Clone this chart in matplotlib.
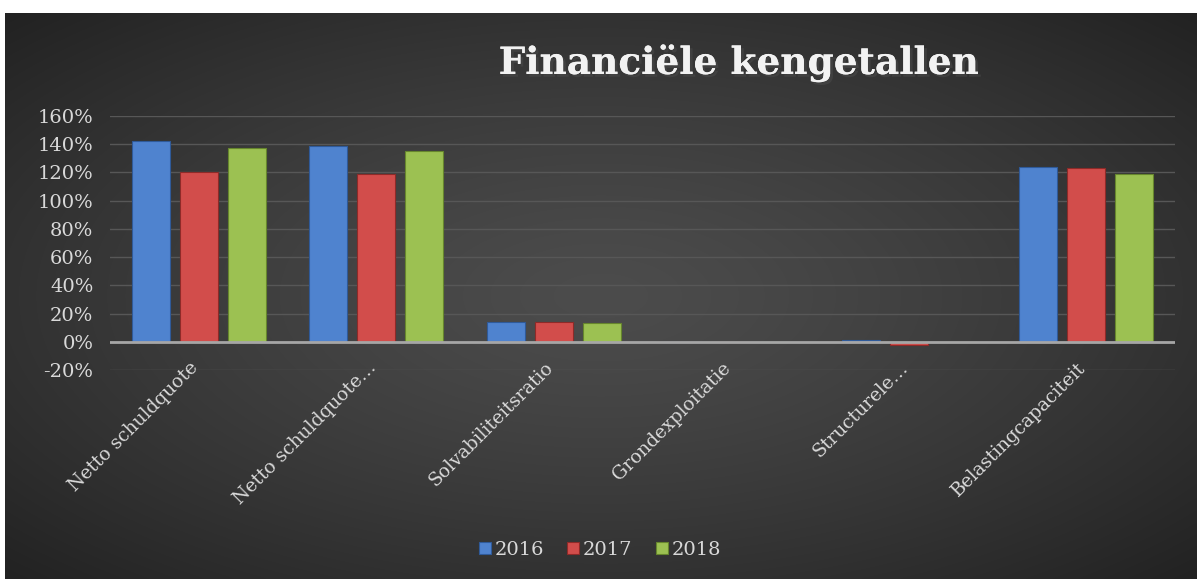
import numpy as np
import matplotlib.pyplot as plt
import matplotlib.patheffects as pe
import matplotlib.transforms as mtrans
from matplotlib.ticker import MultipleLocator, FuncFormatter

categories = ["Netto schuldquote", "Netto schuldquote…", "Solvabiliteitsratio",
              "Grondexploitatie", "Structurele…", "Belastingcapaciteit"]
years = ["2016", "2017", "2018"]
v2016 = [142, 139, 14, 0, 1, 124]
v2017 = [120, 119, 14, 0, -2, 123]
v2018 = [137, 135, 13, -0.5, 0, 119]
colors = ["#4f83cf", "#d24d4b", "#9cc152"]
edges = ["#2f5a99", "#8e2a28", "#66862d"]

txt_col = "#d9d9d9"
serif = ["DejaVu Serif"]

fig = plt.figure(figsize=(12, 5.79), dpi=100)
fig.patch.set_facecolor("white")

# radial gradient background (lighter centre, dark corners)
bg = fig.add_axes([5 / 1200, 0, 1192 / 1200, 1 - 13 / 579])
yy, xx = np.mgrid[-1:1:300j, -1:1:600j]
r = np.clip(np.sqrt(xx ** 2 + yy ** 2) / np.sqrt(2), 0, 1)
g = (0x4c - (0x4c - 0x22) * r ** 1.3) / 255.0
bg.imshow(np.dstack([g, g, g]), aspect="auto", extent=[0, 1, 0, 1],
          interpolation="bilinear")
bg.set_axis_off()

ax = fig.add_axes([110 / 1200, 1 - 370 / 579, 1065 / 1200, 254 / 579])
ax.patch.set_alpha(0)
x = np.arange(len(categories))
w = 0.214
step = 0.27
for i, vals in enumerate([v2016, v2017, v2018]):
    ax.bar(x + (i - 1) * step, vals, width=w, color=colors[i],
           edgecolor=edges[i], linewidth=0.8, label=years[i], zorder=3)

ax.set_xlim(-0.5, len(categories) - 0.5)
ax.set_ylim(-20, 160)
ax.yaxis.set_major_locator(MultipleLocator(20))
ax.yaxis.set_major_formatter(FuncFormatter(lambda v, p: "%d%%" % v))
ax.grid(axis="y", color="#575757", linewidth=1, zorder=0)
ax.axhline(0, color="#a6a6a6", linewidth=2, zorder=4)
for s in ax.spines.values():
    s.set_visible(False)
ax.tick_params(length=0, colors=txt_col)
ax.tick_params(axis="y", pad=12)
for lab in ax.get_yticklabels():
    lab.set_fontfamily(serif)
    lab.set_fontsize(14)
ax.set_xticks(x)
ax.set_xticklabels(categories, rotation=45, ha="right", va="center",
                   rotation_mode="anchor", fontsize=13.5, family=serif, color=txt_col)
ax.tick_params(axis="x", pad=0)
shift = mtrans.ScaledTranslation(-3 / 100, 5 / 100, fig.dpi_scale_trans)
for lab in ax.get_xticklabels():
    lab.set_transform(lab.get_transform() + shift)

t = fig.text(0.615, 0.89, "Financiële kengetallen", ha="center", va="center",
             fontsize=27, fontweight="bold", family=serif, color="#f2f2f2")
t.set_path_effects([pe.withSimplePatchShadow(offset=(2, -2), alpha=0.6), pe.Normal()])

leg = fig.legend(*ax.get_legend_handles_labels(), loc="center", bbox_to_anchor=(0.5, 1 - 550 / 579),
                 ncol=3, frameon=False, handlelength=0.6, handleheight=0.6,
                 handletextpad=0.2, columnspacing=1.2,
                 prop={"family": serif, "size": 14})
for tx in leg.get_texts():
    tx.set_color(txt_col)

fig.savefig("out.png", dpi=100)
